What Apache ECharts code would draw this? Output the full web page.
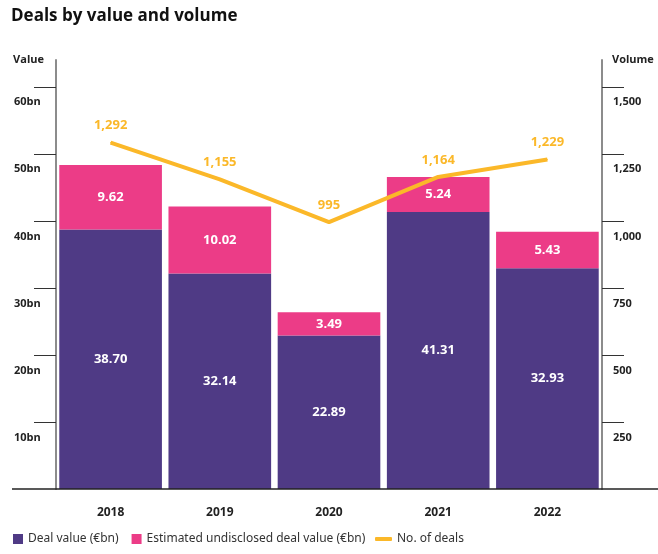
<!DOCTYPE html>
<html>
<head>
<meta charset="utf-8">
<script src="https://cdn.jsdelivr.net/npm/echarts@6/dist/echarts.min.js"></script>
<style>
  html, body { margin: 0; padding: 0; background: #fff; }
  #chart { width: 658px; height: 554px; }
</style>
</head>
<body>
<div id="chart"></div>
<script>
// === Data === //
const years = ['2018', '2019', '2020', '2021', '2022']
const dealValue = [38.70, 32.14, 22.89, 41.31, 32.93]
const undisclosedValue = [9.62, 10.02, 3.49, 5.24, 5.43]
const dealCount = [1292, 1155, 995, 1164, 1229]
const valueTicks = [10, 20, 30, 40, 50, 60]
const volumeTicks = [250, 500, 750, 1000, 1250, 1500]

const purple = '#4f3a85'
const pink = '#ec3c87'
const orange = '#fbb829'
const font = '"Open Sans", "Noto Sans", sans-serif'
const narrow = '"Liberation Sans Narrow", "Noto Sans", sans-serif'

const myChart = echarts.init(document.getElementById('chart'))

const sideAxis = (name, max, interval, ticks, fmt, isLeft) => ({
  type: 'value',
  min: 0,
  max,
  interval,
  name,
  nameLocation: 'end',
  nameGap: 0,
  nameTextStyle: {
    fontFamily: font,
    fontWeight: 'bold',
    fontSize: 11,
    color: '#222',
    align: isLeft ? 'right' : 'left',
    verticalAlign: 'middle',
    padding: isLeft ? [0, 12, 0, 0] : [0, 0, 0, 10]
  },
  splitLine: { show: false },
  axisLine: { show: true, lineStyle: { color: '#8c8c8c', width: 2 } },
  axisTick: {
    show: true,
    length: 22,
    customValues: ticks,
    lineStyle: { color: '#333', width: 1 }
  },
  axisLabel: {
    customValues: ticks,
    formatter: fmt,
    fontFamily: font,
    fontWeight: 'bold',
    fontSize: 11,
    color: '#222',
    align: 'left',
    verticalAlign: 'top',
    margin: isLeft ? 42 : 11,
    padding: [10, 0, 0, 0]
  }
})

const barLabel = {
  show: true,
  position: 'inside',
  formatter: p => p.value.toFixed(2),
  color: '#fff',
  fontFamily: font,
  fontWeight: 'bold',
  fontSize: 13
}

const option = {
  animation: false,
  title: {
    text: 'Deals by value and volume',
    left: 6,
    top: 3,
    textStyle: { fontFamily: font, fontWeight: 'bold', fontSize: 17, color: '#111' }
  },
  grid: { left: 56, right: 56, top: 60, bottom: 65 },
  legend: [
    {
      data: ['Deal value (€bn)', 'Estimated undisclosed deal value (€bn)'],
      left: 8,
      bottom: 4,
      icon: 'rect',
      itemWidth: 10,
      itemHeight: 10,
      itemGap: 13,
      textStyle: { fontFamily: narrow, fontSize: 12, color: '#333' }
    },
    {
      data: ['No. of deals'],
      left: 370,
      bottom: 4,
      icon: 'roundRect',
      itemWidth: 17,
      itemHeight: 4,
      textStyle: { fontFamily: narrow, fontSize: 12, color: '#333' }
    }
  ],
  xAxis: {
    type: 'category',
    data: years,
    axisLine: { show: false },
    axisTick: { show: false },
    axisLabel: {
      margin: 18,
      fontFamily: font,
      fontWeight: 'bold',
      fontSize: 12,
      color: '#222'
    }
  },
  yAxis: [
    sideAxis('Value', 64, 10, valueTicks, v => v + 'bn', true),
    sideAxis('Volume', 1600, 250, volumeTicks, v => v.toLocaleString('en-US'), false)
  ],
  graphic: [
    {
      type: 'line',
      shape: { x1: 12, y1: 489, x2: 658, y2: 489 },
      style: { stroke: '#222', lineWidth: 1.5 },
      z: 100
    }
  ],
  series: [
    {
      name: 'Deal value (€bn)',
      type: 'bar',
      stack: 'value',
      data: dealValue,
      barCategoryGap: '6%',
      itemStyle: { color: purple },
      label: barLabel
    },
    {
      name: 'Estimated undisclosed deal value (€bn)',
      type: 'bar',
      stack: 'value',
      data: undisclosedValue,
      itemStyle: { color: pink },
      label: barLabel
    },
    {
      name: 'No. of deals',
      type: 'line',
      yAxisIndex: 1,
      data: dealCount,
      symbol: 'circle',
      symbolSize: 1,
      showSymbol: true,
      lineStyle: { color: orange, width: 4 },
      itemStyle: { color: orange },
      z: 5,
      label: {
        show: true,
        position: 'top',
        distance: 10,
        formatter: p => p.value.toLocaleString('en-US'),
        color: orange,
        fontFamily: font,
        fontWeight: 'bold',
        fontSize: 13
      }
    }
  ]
}

myChart.setOption(option)
</script>
</body>
</html>
